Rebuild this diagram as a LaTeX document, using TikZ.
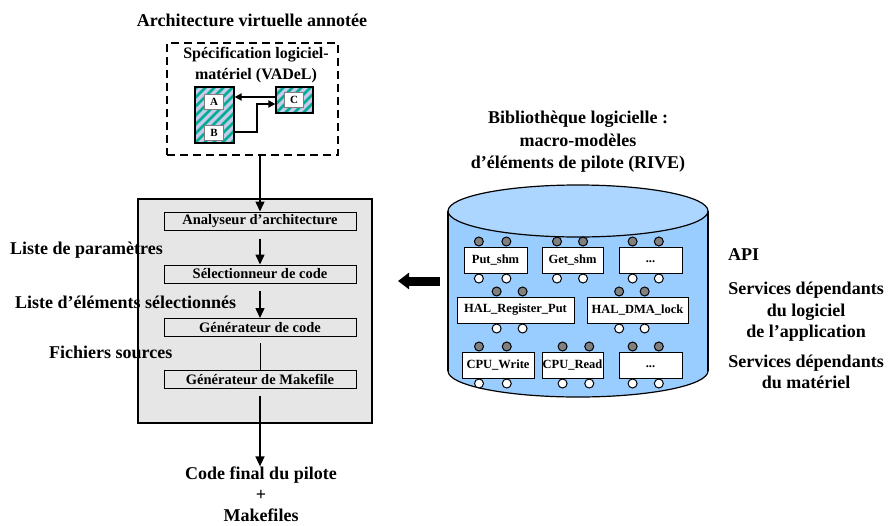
\documentclass[tikz,border=0pt]{standalone}
\usepackage{fontspec}
\setmainfont{Liberation Serif}
\usetikzlibrary{arrows.meta,calc}
\definecolor{toolgray}{RGB}{230,230,230}
\definecolor{dbbody}{RGB}{153,204,255}
\definecolor{dbtop}{RGB}{172,214,255}
\definecolor{hatchbg}{RGB}{200,200,240}
\definecolor{hatchfg}{RGB}{0,175,140}
\definecolor{pingray}{RGB}{128,128,128}
\begin{document}
\begin{tikzpicture}[x=1pt,y=-1pt,
  biglbl/.style={font=\bfseries\fontsize{18}{21.5}\selectfont,align=center,inner sep=0pt},
  stage/.style={draw,line width=1pt,fill=toolgray,minimum width=192pt,minimum height=18pt,inner sep=0pt,font=\bfseries\fontsize{14.5}{16}\selectfont},
  modbox/.style={draw,line width=1pt,fill=white,minimum height=26pt,inner sep=0pt,font=\bfseries\fontsize{12.5}{14}\selectfont},
  pintop/.style={circle,draw,line width=1pt,fill=pingray,minimum size=9pt,inner sep=0pt,anchor=south},
  pinbot/.style={circle,draw,line width=1pt,fill=white,minimum size=9pt,inner sep=0pt,anchor=north},
  hatched/.style={draw,line width=1.2pt,fill=hatchbg,inner sep=0pt,path picture={\foreach \k in {-72,-63,...,72} \draw[hatchfg,line width=2.5pt] ([xshift=\k pt]path picture bounding box.south west) -- ++(72pt,72pt);}},
  tag/.style={draw=gray,line width=0.8pt,fill=white,minimum width=19pt,minimum height=15pt,inner sep=0pt,font=\bfseries\fontsize{11}{12}\selectfont},
  flow/.style={line width=1.5pt,-{Triangle[length=10pt,width=9pt]}},
  link/.style={line width=1.8pt,-{Triangle[length=7pt,width=7pt]}}]

\useasboundingbox (0,0) rectangle (888,525);

\node[biglbl] (archi) at (252,20) {Architecture virtuelle annotée};
\node[draw,line width=2pt,dash pattern=on 8pt off 5pt,minimum width=171pt,minimum height=112pt] (spec) at (252.5,99) {};
\node[biglbl,font=\bfseries\fontsize{16}{21}\selectfont] (spectxt) at (256,65) {Spécification logiciel-\\matériel (VADeL)};
\node[hatched,minimum width=39pt,minimum height=56pt] (ab) at (214.5,115) {};
\node[hatched,minimum width=37pt,minimum height=26pt] (c) at (294.5,100) {};
\node[tag] (a) at (214,102) {A};
\node[tag] (b) at (214,133) {B};
\node[tag] (ct) at (294,100) {C};
\coordinate (ca) at ($(c.west)+(0,-3)$);
\coordinate (bout) at ($(ab.east)+(0,17)$);
\coordinate (cin) at ($(c.west)+(0,4)$);
\draw[link] (ca) -- (ca -| ab.east);
\draw[link] (bout) -- ++(22,0) |- (cin);

\node[draw,fill=toolgray,line width=1.5pt,minimum width=234pt,minimum height=224pt] (tool) at (255,311) {};
\node[stage] (ana) at (260,221) {Analyseur d’architecture};
\node[stage] (sel) at (260,274) {Sélectionneur de code};
\node[stage] (gen) at (260,327.5) {Générateur de code};
\node[stage] (mk) at (260,379) {Générateur de Makefile};

\node[biglbl,anchor=west] (params) at (10,250) {Liste de paramètres};
\node[biglbl,anchor=west] (elems) at (15,302) {Liste d’éléments sélectionnés};
\node[biglbl,anchor=west] (srcs) at (49,352) {Fichiers sources};
\node[biglbl,font=\bfseries\fontsize{18}{21}\selectfont] (out) at (261,494) {Code final du pilote\\+\\Makefiles};

\draw[flow] (spec.south -| ana.north) -- (ana.north);
\draw[flow,shorten <=8pt] (ana) -- (sel);
\draw[flow,shorten <=7pt] (sel) -- (gen);
\draw[line width=1pt,shorten <=6pt] (gen) -- (mk);
\draw[flow,shorten <=7pt] (mk.south) -- (mk.south |- out.north);

\node[biglbl,font=\bfseries\fontsize{18}{22.5}\selectfont] (libtitle) at (578,142) {Bibliothèque logicielle :\\macro-modèles\\d’éléments de pilote (RIVE)};

\fill[dbbody] (448,211) rectangle (708,371);
\fill[dbbody] (578,371) ellipse [x radius=130, y radius=26];
\draw[line width=1.2pt] (448,211) -- (448,371) (708,211) -- (708,371);
\begin{scope}
\clip (440,371) rectangle (716,400);
\draw[line width=1.2pt] (578,371) ellipse [x radius=130, y radius=26];
\end{scope}
\draw[line width=1.2pt,fill=dbtop] (578,211) ellipse [x radius=130, y radius=26];

\node[modbox,minimum width=63pt] (putshm) at (495.5,260) {Put\_shm};
\node[modbox,minimum width=61pt] (getshm) at (572.5,260) {Get\_shm};
\node[modbox,minimum width=63pt] (morea) at (650.5,260) {\strut...};
\node[modbox,minimum width=117pt] (halreg) at (515.5,310) {HAL\_Register\_Put};
\node[modbox,minimum width=101pt] (haldma) at (637.5,310) {HAL\_DMA\_lock};
\node[modbox,minimum width=72pt] (cpuw) at (498,365) {CPU\_Write};
\node[modbox,minimum width=61pt] (cpur) at (572.5,365) {CPU\_Read};
\node[modbox,minimum width=63pt] (moreb) at (650.5,365) {\strut...};

\foreach \m/\p/\q in {putshm/0.24/0.67, getshm/0.25/0.67, morea/0.22/0.63, halreg/0.34/0.56, haldma/0.32/0.57, cpuw/0.24/0.62, cpur/0.34/0.77, moreb/0.22/0.63} {
  \foreach \f [count=\i] in {\p,\q} {
    \node[pintop] (\m-t\i) at ($(\m.north west)!\f!(\m.north east)$) {};
    \node[pinbot] (\m-b\i) at ($(\m.south west)!\f!(\m.south east)$) {};
  }
}

\coordinate (libleft) at (440,281);
\coordinate (toolright) at (398,281);
\draw[line width=9pt,-{Triangle[length=11pt,width=16pt]}] (libleft) -- (toolright);

\node[biglbl,anchor=west] (api) at (728,255) {API};
\node[biglbl] (swdep) at (806,312) {Services dépendants\\du logiciel\\de l’application};
\node[biglbl] (hwdep) at (806,372) {Services dépendants\\du matériel};
\end{tikzpicture}
\end{document}
